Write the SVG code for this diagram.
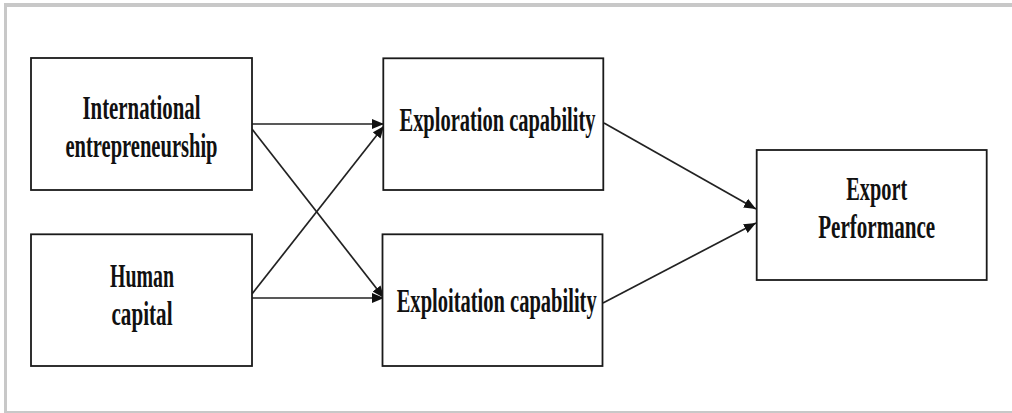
<svg xmlns="http://www.w3.org/2000/svg" width="1012" height="413" viewBox="0 0 1012 413">
<style>
.box{fill:#ffffff;stroke:#1a1a1a;stroke-width:1.8}
.lbl{font-family:"Liberation Serif","Times New Roman",serif;font-weight:bold;font-size:33px;fill:#111111;text-anchor:middle}
.edge{stroke:#222222;stroke-width:1.7;fill:none;marker-end:url(#ah)}
.frame{stroke:#c8c8c8;fill:none}
</style>
<defs>
<marker id="ah" markerUnits="userSpaceOnUse" markerWidth="13" markerHeight="11" refX="12" refY="5.5" orient="auto">
<path d="M0,0.5 L12,5.5 L0,10.5 Z" fill="#111111"/>
</marker>
</defs>
<rect x="0" y="0" width="1012" height="413" fill="#ffffff"/>
<g id="frame">
<line class="frame" x1="4" y1="5" x2="1012" y2="5" stroke-width="4"/>
<line class="frame" x1="5.5" y1="3" x2="5.5" y2="413" stroke-width="3"/>
<line class="frame" x1="4" y1="412" x2="1012" y2="412" stroke-width="2"/>
</g>
<g id="connectors">
<line class="edge" x1="252" y1="124" x2="384" y2="124"/>
<line class="edge" x1="252" y1="129" x2="384" y2="298"/>
<line class="edge" x1="252" y1="298" x2="384" y2="298"/>
<line class="edge" x1="252" y1="294" x2="384" y2="126"/>
<line class="edge" x1="604" y1="123" x2="756" y2="209"/>
<line class="edge" x1="603" y1="303" x2="756" y2="223"/>
</g>
<g id="international-entrepreneurship">
<rect class="box" x="31" y="58" width="221" height="132"/>
<text class="lbl" x="141.5" y="119.3" textLength="118" lengthAdjust="spacingAndGlyphs">International</text>
<text class="lbl" x="141.5" y="156.7" textLength="152" lengthAdjust="spacingAndGlyphs">entrepreneurship</text>
</g>
<g id="human-capital">
<rect class="box" x="31" y="234.3" width="221" height="131.7"/>
<text class="lbl" x="142" y="286.7" textLength="64" lengthAdjust="spacingAndGlyphs">Human</text>
<text class="lbl" x="142" y="325" textLength="61" lengthAdjust="spacingAndGlyphs">capital</text>
</g>
<g id="exploration-capability">
<rect class="box" x="383.3" y="58.3" width="220" height="131.7"/>
<text class="lbl" x="497.5" y="130.7" textLength="196" lengthAdjust="spacingAndGlyphs">Exploration capability</text>
</g>
<g id="exploitation-capability">
<rect class="box" x="382.5" y="234.3" width="220" height="131.7"/>
<text class="lbl" x="496.7" y="311.7" textLength="200" lengthAdjust="spacingAndGlyphs">Exploitation capability</text>
</g>
<g id="export-performance">
<rect class="box" x="756.7" y="150" width="230" height="130"/>
<text class="lbl" x="876.7" y="200" textLength="61" lengthAdjust="spacingAndGlyphs">Export</text>
<text class="lbl" x="876.7" y="238.3" textLength="117" lengthAdjust="spacingAndGlyphs">Performance</text>
</g>
</svg>
